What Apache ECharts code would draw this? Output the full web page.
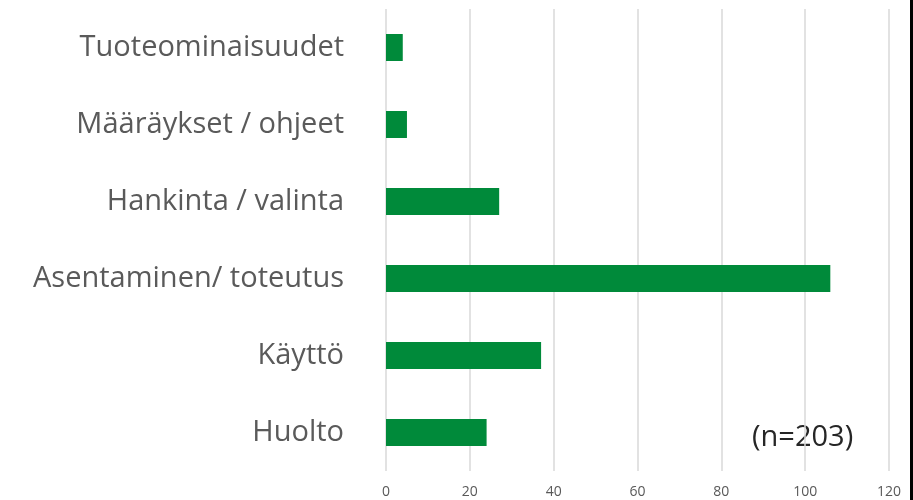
<!DOCTYPE html>
<html>
<head>
<meta charset="utf-8">
<script src="https://cdn.jsdelivr.net/npm/echarts@6/dist/echarts.min.js"></script>
<style>html,body{margin:0;padding:0;background:#fff;}#c{width:913px;height:500px;}</style>
</head>
<body>
<div id="c"></div>
<script>
var categories = ['Tuoteominaisuudet', 'Määräykset / ohjeet', 'Hankinta / valinta', 'Asentaminen/ toteutus', 'Käyttö', 'Huolto'];
var values = [4, 5, 27, 106, 37, 24];
var xTicks = [0, 20, 40, 60, 80, 100, 120];
var note = '(n=203)';

var chart = echarts.init(document.getElementById('c'), null, {renderer: 'canvas'});
chart.setOption({
  animation: false,
  grid: {left: 386, right: 24, top: 9, bottom: 29, containLabel: false},
  xAxis: {
    type: 'value', min: xTicks[0], max: xTicks[xTicks.length - 1], interval: 20,
    axisLine: {show: false}, axisTick: {show: false},
    splitLine: {lineStyle: {color: '#d9d9d9', width: 1.5}},
    axisLabel: {color: '#595959', fontSize: 14, fontFamily: 'Open Sans', margin: 14}
  },
  yAxis: {
    type: 'category', data: categories, inverse: true,
    axisLine: {show: false}, axisTick: {show: false},
    axisLabel: {color: '#5a5a5a', fontSize: 29, fontFamily: 'Open Sans', margin: 42, padding: [0, 0, 12, 0]}
  },
  series: [{
    type: 'bar', data: values, barWidth: '35%',
    itemStyle: {color: '#008a3a'}
  }],
  graphic: [
    {type: 'text', left: 752, top: 423, style: {text: note, fontSize: 29, fontFamily: 'Open Sans', fill: '#262626'}},
    {type: 'rect', shape: {x: 910, y: 0, width: 3, height: 500}, style: {fill: '#000'}}
  ]
});
</script>
</body>
</html>
